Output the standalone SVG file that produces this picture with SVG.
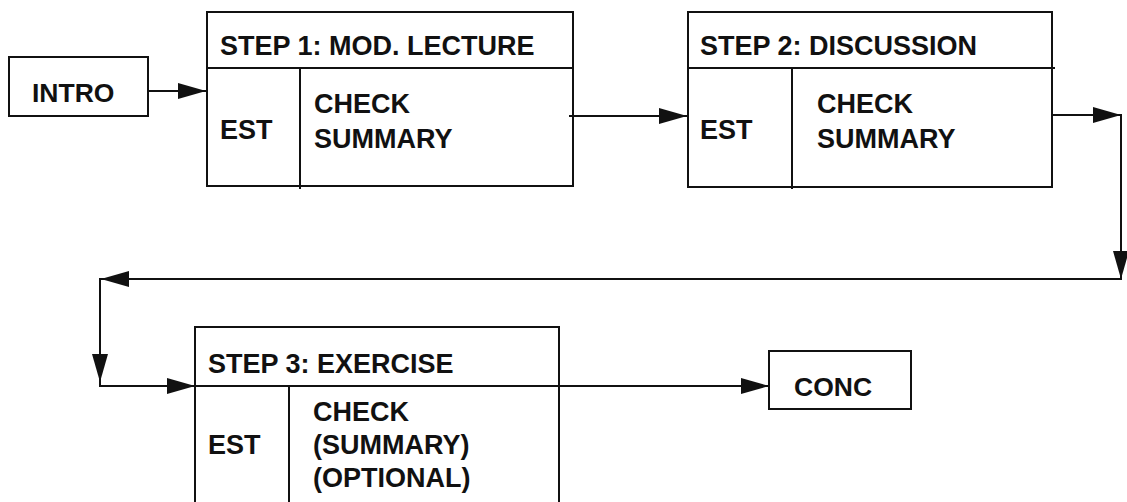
<svg xmlns="http://www.w3.org/2000/svg" width="1127" height="502" viewBox="0 0 1127 502">
<defs>
<marker id="ah" markerUnits="userSpaceOnUse" markerWidth="28" markerHeight="16" refX="28" refY="8" orient="auto">
<path d="M0,0 L28,8 L0,16 Z" fill="#111"/>
</marker>
<style>
.box{fill:#fff;stroke:#111;stroke-width:2}
.ln{fill:none;stroke:#111;stroke-width:2}
.t{font-family:"Liberation Sans",Arial,sans-serif;font-size:27px;font-weight:bold;fill:#111}
.c{fill:none;stroke:#111;stroke-width:2}
</style>
</defs>
<rect width="1127" height="502" fill="#fff"/>
<g id="intro">
<rect class="box" x="9" y="57" width="139" height="59"/>
<text class="t" x="32" y="102" style="font-size:26.5px">INTRO</text>
</g>
<g id="step1">
<rect class="box" x="207" y="12" width="366" height="174"/>
<path class="ln" d="M207,68 H573 M300,68 V189"/>
<text class="t" x="220" y="55">STEP 1: MOD. LECTURE</text>
<text class="t" x="220" y="139">EST</text>
<text class="t" x="314" y="113">CHECK</text>
<text class="t" x="314" y="148">SUMMARY</text>
</g>
<g id="step2">
<rect class="box" x="688" y="12" width="364" height="175"/>
<path class="ln" d="M688,68 H1055 M792,68 V189"/>
<text class="t" x="700" y="55">STEP 2: DISCUSSION</text>
<text class="t" x="700" y="139">EST</text>
<text class="t" x="817" y="113">CHECK</text>
<text class="t" x="817" y="148">SUMMARY</text>
</g>
<g id="step3">
<rect class="box" x="195" y="327" width="364" height="200"/>
<path class="ln" d="M195,386 H559 M289,386 V502"/>
<text class="t" x="208" y="373">STEP 3: EXERCISE</text>
<text class="t" x="208" y="454">EST</text>
<text class="t" x="313" y="421">CHECK</text>
<text class="t" x="313" y="454">(SUMMARY)</text>
<text class="t" x="313" y="487">(OPTIONAL)</text>
</g>
<g id="conc">
<rect class="box" x="769" y="351" width="142" height="58"/>
<text class="t" x="794" y="396" style="font-size:26.5px">CONC</text>
</g>
<g id="connectors">
<path class="c" d="M148,91 H206" marker-end="url(#ah)"/>
<path class="c" d="M569,116 H687" marker-end="url(#ah)"/>
<path class="c" d="M1052,115 H1121" marker-end="url(#ah)"/>
<path class="c" d="M1121,114 V279" marker-end="url(#ah)"/>
<path class="c" d="M1122,279 H101" marker-end="url(#ah)"/>
<path class="c" d="M100,278 V382" marker-end="url(#ah)"/>
<path class="c" d="M100,380 V386 H195" marker-end="url(#ah)"/>
<path class="c" d="M559,386 H769" marker-end="url(#ah)"/>
</g>
</svg>
